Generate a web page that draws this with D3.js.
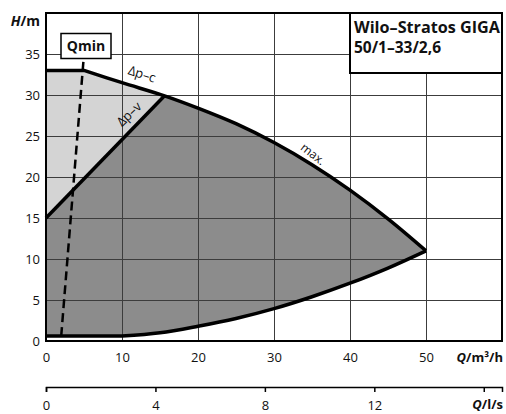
<!DOCTYPE html>
<html>
<head>
<meta charset="utf-8">
<script src="https://cdn.jsdelivr.net/npm/d3@7"></script>
<style>
    body { margin: 0; background: #fff; }
    text { font-family: "Open Sans", "DejaVu Sans", sans-serif; fill: #111; }
</style>
</head>
<body>
<div id="chart"></div>
<script>
// curve data (Q in m³/h, H in m)
const maxQ = [0, 5, 10, 15.6, 20, 25, 30, 35, 40, 45, 50];
const maxH = [33, 33, 31.5, 29.9, 28.4, 26.5, 24.2, 21.5, 18.4, 14.9, 11];
const minQ = [0, 10, 15, 20, 25, 30, 35, 40, 45, 50];
const minH = [0.6, 0.6, 1.0, 1.8, 2.75, 3.95, 5.4, 7.05, 8.9, 11];
const dpvQ = [0, 15.6];
const dpvH = [15, 29.9];
const qminQ = [2.0, 4.95];
const qminH = [0.6, 34.4];

const xTicks = [0, 10, 20, 30, 40, 50];
const yTicks = [0, 5, 10, 15, 20, 25, 30, 35];
const lpsTicks = [0, 4, 8, 12, 16];
const titleLines = ["Wilo–Stratos GIGA", "50/1–33/2,6"];

let width = 506, height = 414;
let margin = {top: 13, right: 4, bottom: 73, left: 46};

let svg = d3.select("#chart").append("svg")
    .attr("width", width)
    .attr("height", height);

// scales
let x = d3.scaleLinear().domain([0, 60]).range([margin.left, width - margin.right]);
let y = d3.scaleLinear().domain([0, 40]).range([height - margin.bottom, margin.top]);
let lps = d3.scaleLinear().domain([0, 60 / 3.6]).range([margin.left, width - margin.right]);

let pts = (qs, hs) => qs.map((q, i) => [q, hs[i]]);
let maxPts = pts(maxQ, maxH);
let minPts = pts(minQ, minH);

// flat start drawn straight, the rest smooth
let smooth = d3.line().x(d => x(d[0])).y(d => y(d[1])).curve(d3.curveCatmullRom.alpha(0.5));
let curvePath = p => `M${x(p[0][0])},${y(p[0][1])}` + smooth(p.slice(1)).replace(/^M/, "L");
let areaPath = p => curvePath(p) + `L${x(p[p.length - 1][0])},${y(0)}L${x(p[0][0])},${y(0)}Z`;
let straight = d3.line().x(d => x(d[0])).y(d => y(d[1]));

// clip for the light part (above the dp-v line)
svg.append("clipPath").attr("id", "above-dpv")
    .append("polygon")
    .attr("points", [[dpvQ[0], dpvH[0]], [dpvQ[1], dpvH[1]], [dpvQ[1], 40], [0, 40]]
        .map(d => x(d[0]) + "," + y(d[1])).join(" "));

// fills
svg.append("path").attr("d", areaPath(maxPts)).attr("fill", "#8c8c8c");
svg.append("path").attr("d", areaPath(maxPts)).attr("fill", "#d4d4d4")
    .attr("clip-path", "url(#above-dpv)");
svg.append("path").attr("d", areaPath(minPts)).attr("fill", "#fff");

// grid
let grid = svg.append("g").attr("stroke", "#3c3c3c").attr("stroke-width", 1);
grid.selectAll(".vg").data(xTicks.slice(1)).enter().append("line")
    .attr("x1", d => Math.round(x(d)) + 0.5).attr("x2", d => Math.round(x(d)) + 0.5)
    .attr("y1", y(40)).attr("y2", y(0));
grid.selectAll(".hg").data(yTicks.slice(1)).enter().append("line")
    .attr("x1", x(0)).attr("x2", x(60))
    .attr("y1", d => Math.round(y(d)) + 0.5).attr("y2", d => Math.round(y(d)) + 0.5);

// curves
svg.append("path").attr("d", curvePath(maxPts))
    .attr("fill", "none").attr("stroke", "#000").attr("stroke-width", 3.5)
    .attr("stroke-linejoin", "round");
svg.append("path").attr("d", curvePath(minPts))
    .attr("fill", "none").attr("stroke", "#000").attr("stroke-width", 3.5);
svg.append("path").attr("d", straight(pts(dpvQ, dpvH)))
    .attr("fill", "none").attr("stroke", "#000").attr("stroke-width", 3.5);
svg.append("path").attr("d", straight(pts(qminQ, qminH)))
    .attr("fill", "none").attr("stroke", "#000").attr("stroke-width", 2.5)
    .attr("stroke-dasharray", "9,5");

// frame
svg.append("rect")
    .attr("x", x(0)).attr("y", y(40))
    .attr("width", x(60) - x(0)).attr("height", y(0) - y(40))
    .attr("fill", "none").attr("stroke", "#000").attr("stroke-width", 2);

// title box
svg.append("rect")
    .attr("x", x(40)).attr("y", y(40))
    .attr("width", x(60) - x(40)).attr("height", 60)
    .attr("fill", "#fff").attr("stroke", "#000").attr("stroke-width", 2);
svg.selectAll(".title").data(titleLines).enter().append("text")
    .attr("x", x(40) + 4).attr("y", (d, i) => 33 + i * 20)
    .attr("font-size", "16px").attr("font-weight", "bold")
    .attr("textLength", (d, i) => i == 0 ? 146 : 87)
    .attr("lengthAdjust", "spacingAndGlyphs")
    .text(d => d);

// Qmin box
svg.append("rect")
    .attr("x", 61).attr("y", 33.5).attr("width", 50).attr("height", 25)
    .attr("fill", "#fff").attr("stroke", "#000").attr("stroke-width", 1.5);
svg.append("text").attr("x", 86).attr("y", 51)
    .attr("text-anchor", "middle").attr("font-size", "14px").attr("font-weight", "bold")
    .text("Qmin");

// axes
let xAxis = svg.append("g")
    .attr("transform", `translate(0,${y(0)})`)
    .call(d3.axisBottom(x).tickValues(xTicks).tickSize(0).tickPadding(12));
let yAxis = svg.append("g")
    .attr("transform", `translate(${x(0)},0)`)
    .call(d3.axisLeft(y).tickValues(yTicks).tickSize(0).tickPadding(6));
[xAxis, yAxis].forEach(a => {
    a.select(".domain").remove();
    a.selectAll("text").attr("font-family", null).attr("font-size", "13px").attr("fill", "#111");
});

let lAxis = svg.append("g")
    .attr("transform", "translate(0,387)")
    .call(d3.axisBottom(lps).tickValues(lpsTicks).tickSizeOuter(0).tickSize(5).tickPadding(9)
        .tickFormat(d => d == 16 ? "" : d));
lAxis.select(".domain").attr("stroke-width", 1.5);
lAxis.selectAll("line").attr("stroke-width", 1.5);
lAxis.selectAll("text").attr("font-family", null).attr("font-size", "13px").attr("fill", "#111");

// axis titles
let hLabel = svg.append("text").attr("x", 40).attr("y", 26)
    .attr("text-anchor", "end").attr("font-size", "14px").attr("font-weight", "bold");
hLabel.append("tspan").attr("font-style", "italic").text("H");
hLabel.append("tspan").text("/m");

let qLabel = svg.append("text").attr("x", 503).attr("y", 362)
    .attr("text-anchor", "end").attr("font-size", "13px").attr("font-weight", "bold");
qLabel.append("tspan").attr("font-style", "italic").text("Q");
qLabel.append("tspan").text("/m³/h");

let lLabel = svg.append("text").attr("x", 503).attr("y", 409)
    .attr("text-anchor", "end").attr("font-size", "13px").attr("font-weight", "bold");
lLabel.append("tspan").attr("font-style", "italic").text("Q");
lLabel.append("tspan").text("/l/s");

// curve labels
let curveLabels = [
    {t: "Δp–c", cx: 142, cy: 74, r: 18, s: 13},
    {t: "Δp–v", cx: 129, cy: 114, r: -44, s: 13},
    {t: "max.", cx: 313, cy: 154, r: 38, s: 12}
];
svg.selectAll(".clabel").data(curveLabels).enter().append("text")
    .attr("transform", d => `translate(${d.cx},${d.cy}) rotate(${d.r})`)
    .attr("text-anchor", "middle").attr("dy", "0.35em")
    .attr("font-size", d => d.s + "px")
    .text(d => d.t);
</script>
</body>
</html>
